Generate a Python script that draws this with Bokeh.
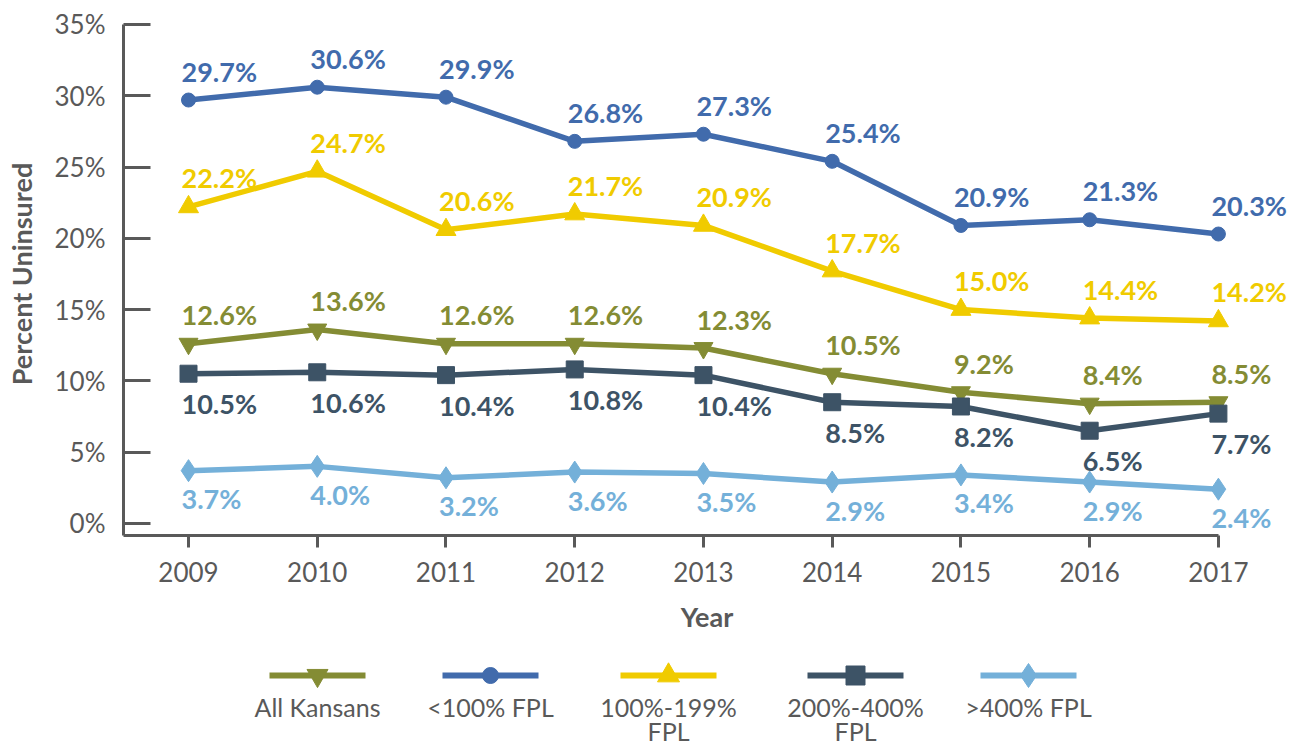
from bokeh.plotting import figure
from bokeh.layouts import column
from bokeh.models import Range1d, FixedTicker, PrintfTickFormatter
from bokeh.core.properties import value
from bokeh.embed import file_html
from bokeh.resources import INLINE

# ---------------- data ----------------
years = [2009, 2010, 2011, 2012, 2013, 2014, 2015, 2016, 2017]
y_ticks = [0, 5, 10, 15, 20, 25, 30, 35]

all_kansans = [12.6, 13.6, 12.6, 12.6, 12.3, 10.5, 9.2, 8.4, 8.5]
fpl_under_100 = [29.7, 30.6, 29.9, 26.8, 27.3, 25.4, 20.9, 21.3, 20.3]
fpl_100_199 = [22.2, 24.7, 20.6, 21.7, 20.9, 17.7, 15.0, 14.4, 14.2]
fpl_200_400 = [10.5, 10.6, 10.4, 10.8, 10.4, 8.5, 8.2, 6.5, 7.7]
fpl_over_400 = [3.7, 4.0, 3.2, 3.6, 3.5, 2.9, 3.4, 2.9, 2.4]

series_names = ["All Kansans", "<100% FPL", "100%-199%\nFPL", "200%-400%\nFPL", ">400% FPL"]
series_values = [all_kansans, fpl_under_100, fpl_100_199, fpl_200_400, fpl_over_400]

# ---------------- styles ----------------
colors = ["#848C34", "#416BAC", "#F0CB00", "#3D5366", "#74B0D9"]
markers = ["inverted_triangle", "circle", "triangle", "square", "diamond"]
marker_sizes = [19, 14, 20, 17, 22]
label_offsets = [-29, -29, -29, 30, 28]
legend_centers = [317, 490, 668, 855, 1028]

FONT = value("Lato")
GRAY = "#595959"
LEFT, RIGHT = 123, 4

p = figure(width=1294, height=650,
           x_range=Range1d(2008.495, 2017.56), y_range=Range1d(-0.85, 35.84),
           output_backend="svg", toolbar_location=None,
           min_border_left=LEFT, min_border_right=RIGHT, min_border_top=12, min_border_bottom=115)
p.outline_line_color = None
p.xgrid.grid_line_color = None
p.ygrid.grid_line_color = None
p.background_fill_color = "white"

for vals, col, mk, ms, off in zip(series_values, colors, markers, marker_sizes, label_offsets):
    p.line(years, vals, line_color=col, line_width=5.5)
    p.scatter(years, vals, marker=mk, size=ms, fill_color=col, line_color=col)
    p.text(years, vals, text=[f"{v:.1f}%" for v in vals],
           text_align="left", text_baseline="middle", x_offset=-7, y_offset=off,
           text_font=FONT, text_font_style="bold", text_font_size="27px", text_color=col)

xa = p.xaxis[0]
xa.ticker = FixedTicker(ticks=years)
xa.formatter = PrintfTickFormatter(format="%d")
xa.bounds = (2008.495, 2017)
xa.axis_label = "Year"
xa.axis_label_text_font = "Lato"
xa.axis_label_text_font_style = "bold"
xa.axis_label_text_font_size = "27px"
xa.axis_label_text_color = GRAY
xa.axis_label_standoff = 15
xa.major_label_text_font = "Lato"
xa.major_label_text_font_size = "26px"
xa.major_label_text_color = GRAY
xa.major_label_standoff = 14
xa.major_tick_in = 0
xa.major_tick_out = 12
xa.minor_tick_line_color = None
xa.axis_line_color = GRAY
xa.axis_line_width = 3
xa.major_tick_line_color = GRAY
xa.major_tick_line_width = 3

ya = p.yaxis[0]
ya.ticker = FixedTicker(ticks=y_ticks)
ya.formatter = PrintfTickFormatter(format="%d%%")
ya.bounds = (-0.85, 35)
ya.axis_label = "Percent Uninsured"
ya.axis_label_text_font = "Lato"
ya.axis_label_text_font_style = "bold"
ya.axis_label_text_font_size = "27px"
ya.axis_label_text_color = GRAY
ya.axis_label_standoff = 14
ya.major_label_text_font = "Lato"
ya.major_label_text_font_size = "26px"
ya.major_label_text_color = GRAY
ya.major_label_standoff = 18
ya.major_tick_in = 27
ya.major_tick_out = 0
ya.minor_tick_line_color = None
ya.axis_line_color = GRAY
ya.axis_line_width = 3
ya.major_tick_line_color = GRAY
ya.major_tick_line_width = 3

# ---------------- legend (below) ----------------
# frame aligned with the main plot's frame; x data == page pixels
lg = figure(width=1294, height=96, x_range=Range1d(LEFT, 1294 - RIGHT), y_range=Range1d(96, 0),
            output_backend="svg", toolbar_location=None,
            x_axis_type=None, y_axis_type=None,
            min_border_left=LEFT, min_border_right=RIGHT, min_border_top=0, min_border_bottom=0)
lg.outline_line_color = None
lg.xgrid.grid_line_color = None
lg.ygrid.grid_line_color = None

for name, col, mk, ms, cx in zip(series_names, colors, markers, marker_sizes, legend_centers):
    lg.line([cx - 48, cx + 48], [25, 25], line_color=col, line_width=6)
    lg.scatter([cx], [25], marker=mk, size=ms + 2, fill_color=col, line_color=col)
    for i, part in enumerate(name.split("\n")):
        lg.text([cx], [41 + 24 * i], text=[part], text_align="center", text_baseline="top",
                text_font=FONT, text_font_size="25px", text_color=GRAY)

layout = column(p, lg, spacing=0)
open("out.html", "w").write(file_html(layout, INLINE))
